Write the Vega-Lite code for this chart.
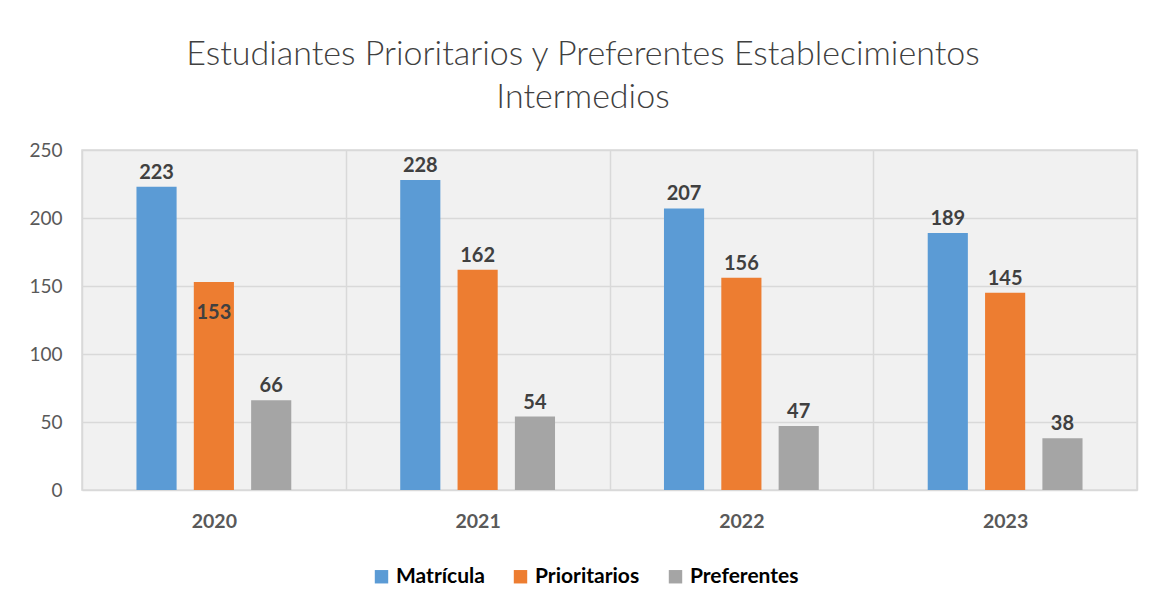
{
  "$schema": "https://vega.github.io/schema/vega-lite/v6.json",
  "autosize": {"type": "none"},
  "width": 1055,
  "height": 340,
  "padding": {"left": 82, "top": 150, "right": 31, "bottom": 119},
  "background": "white",
  "title": {
    "text": ["Estudiantes Prioritarios y Preferentes Establecimientos", "Intermedios"],
    "font": "Lato",
    "fontWeight": 300,
    "fontSize": 34,
    "color": "#404040",
    "lineHeight": 43,
    "frame": "bounds",
    "anchor": "middle",
    "offset": 26
  },
  "data": {
    "values": [
      {"anio": "2020", "serie": "Matrícula", "valor": 223},
      {"anio": "2020", "serie": "Prioritarios", "valor": 153},
      {"anio": "2020", "serie": "Preferentes", "valor": 66},
      {"anio": "2021", "serie": "Matrícula", "valor": 228},
      {"anio": "2021", "serie": "Prioritarios", "valor": 162},
      {"anio": "2021", "serie": "Preferentes", "valor": 54},
      {"anio": "2022", "serie": "Matrícula", "valor": 207},
      {"anio": "2022", "serie": "Prioritarios", "valor": 156},
      {"anio": "2022", "serie": "Preferentes", "valor": 47},
      {"anio": "2023", "serie": "Matrícula", "valor": 189},
      {"anio": "2023", "serie": "Prioritarios", "valor": 145},
      {"anio": "2023", "serie": "Preferentes", "valor": 38}
    ]
  },
  "encoding": {
    "x": {
      "field": "anio",
      "type": "nominal",
      "scale": {"paddingInner": 0, "paddingOuter": 0},
      "axis": {
        "title": null,
        "labelAngle": 0,
        "labelFont": "Lato",
        "labelFontWeight": "bold",
        "labelFontSize": 19.5,
        "labelColor": "#595959",
        "labelPadding": 22,
        "ticks": false,
        "domain": false,
        "grid": true,
        "tickBand": "extent",
        "gridColor": "#d9d9d9",
        "gridWidth": 1.5
      }
    },
    "xOffset": {
      "field": "serie",
      "type": "nominal",
      "sort": ["Matrícula", "Prioritarios", "Preferentes"],
      "scale": {"paddingInner": 0.3, "paddingOuter": 0.95}
    },
    "y": {
      "field": "valor",
      "type": "quantitative",
      "scale": {"domain": [0, 250]},
      "axis": {
        "title": null,
        "values": [0, 50, 100, 150, 200, 250],
        "labelFont": "Lato",
        "labelFontSize": 19,
        "labelColor": "#595959",
        "labelPadding": 20,
        "ticks": false,
        "domain": false,
        "gridColor": "#d9d9d9",
        "gridWidth": 1.5
      }
    }
  },
  "layer": [
    {
      "mark": {"type": "bar"},
      "encoding": {
        "color": {
          "field": "serie",
          "type": "nominal",
          "sort": ["Matrícula", "Prioritarios", "Preferentes"],
          "scale": {"domain": ["Matrícula", "Prioritarios", "Preferentes"], "range": ["#5b9bd5", "#ed7d31", "#a5a5a5"]},
          "legend": {
            "title": null,
            "orient": "none",
            "legendX": 289,
            "legendY": 416,
            "direction": "horizontal",
            "symbolType": "square",
            "symbolSize": 180,
            "symbolStrokeWidth": 0,
            "labelFont": "Lato",
            "labelFontWeight": "bold",
            "labelFontSize": 21,
            "labelColor": "#000000",
            "labelOffset": 4,
            "columnPadding": 25
          }
        }
      }
    },
    {
      "transform": [{"filter": "!(datum.anio == '2020' && datum.serie == 'Prioritarios')"}],
      "mark": {"type": "text", "font": "Lato", "fontWeight": "bold", "fontSize": 20, "color": "#404040", "baseline": "alphabetic", "dy": -8},
      "encoding": {"text": {"field": "valor", "type": "quantitative"}}
    },
    {
      "transform": [{"filter": "datum.anio == '2020' && datum.serie == 'Prioritarios'"}],
      "mark": {"type": "text", "font": "Lato", "fontWeight": "bold", "fontSize": 20, "color": "#404040", "baseline": "alphabetic", "dy": 37},
      "encoding": {"text": {"field": "valor", "type": "quantitative"}}
    }
  ],
  "config": {
    "view": {"stroke": "#d9d9d9", "strokeWidth": 1.5, "fill": "#f1f1f1"}
  }
}
